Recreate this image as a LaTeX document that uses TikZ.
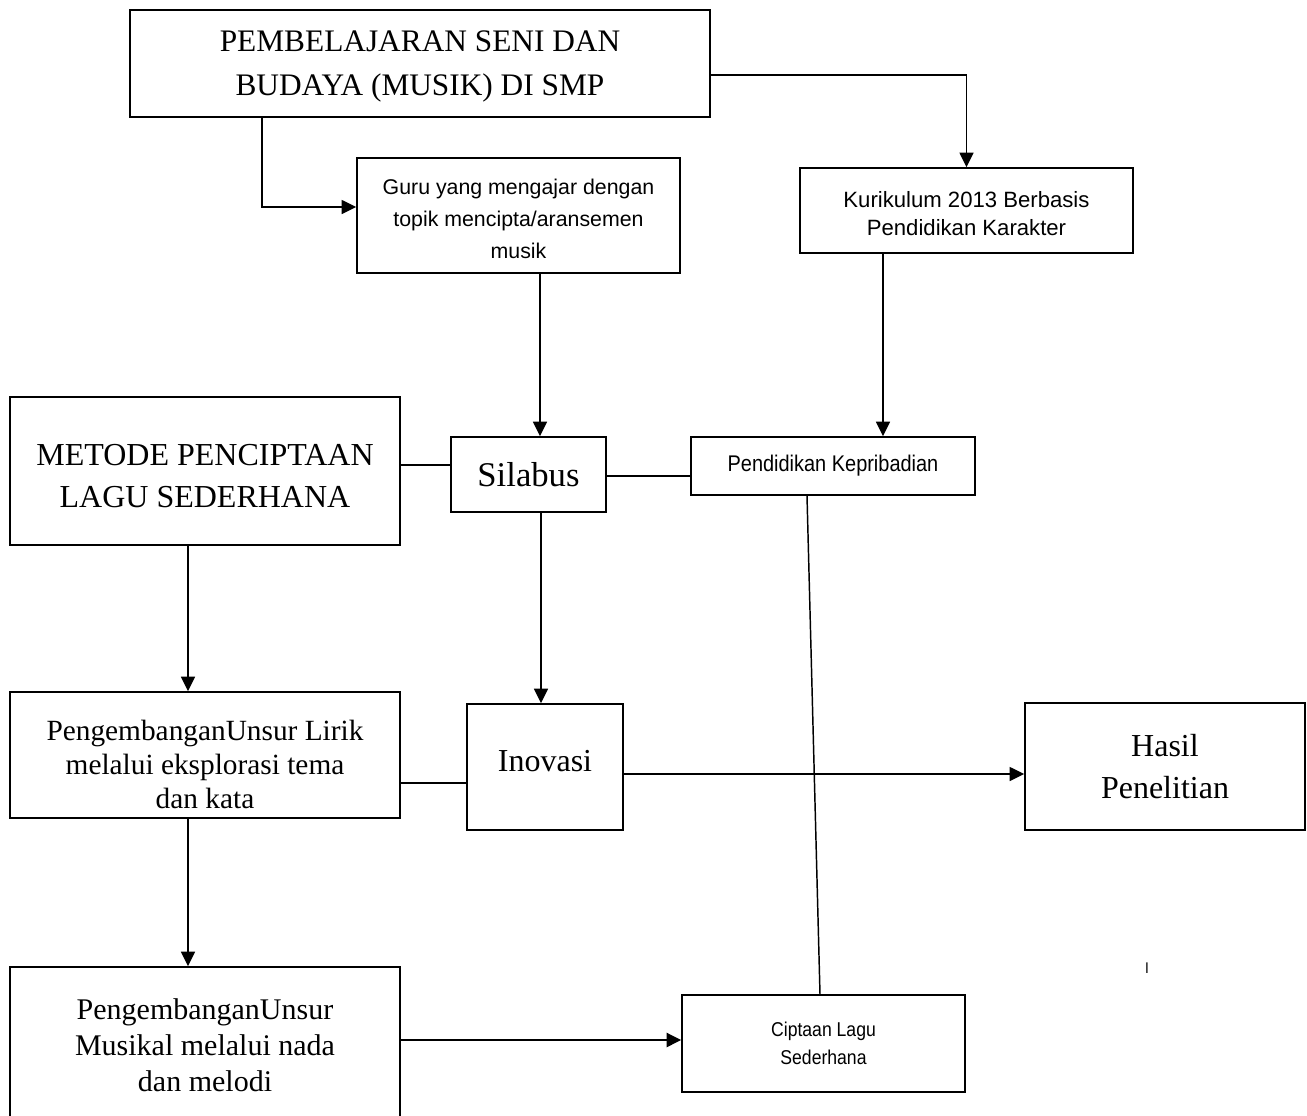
\documentclass[tikz,border=0pt]{standalone}
\usepackage{fontspec}
\setmainfont{Liberation Serif}
\newfontfamily\arial{Liberation Sans}
\newfontfamily\arialn[FakeStretch=0.88]{Liberation Sans}
\usetikzlibrary{arrows.meta,calc}
\tikzset{
  box/.style={draw, line width=1.2pt, inner sep=0pt, align=center},
  txt/.style={inner sep=0pt, align=center},
  arr/.style={line width=1.3pt, -{Triangle[length=11pt,width=10.5pt]}},
  thickarr/.style={line width=2pt, -{Triangle[length=11pt,width=10.5pt]}},
  link/.style={line width=1.1pt},
}
\newcommand{\fs}[2]{\fontsize{#1}{#2}\selectfont}
\begin{document}
\begin{tikzpicture}[x=0.75pt,y=-0.75pt]
\useasboundingbox (0,0) rectangle (1307,1115);
\fill[white] (0,0) rectangle (1307,1115);
\clip (0,0) rectangle (1307,1115);

% boxes
\node[box, minimum width=435pt, minimum height=80.25pt] (top) at (420,63.5) {};
\node[txt, font=\fs{23.5pt}{33pt}] (topt) at (420,66)
  {PEMBELAJARAN SENI DAN\\BUDAYA (MUSIK) DI SMP};
\node[box, minimum width=242.25pt, minimum height=86.25pt] (guru) at (518.5,215.5) {};
\node[txt, font=\arial\fs{16pt}{24pt}] (gurut) at (518.5,219)
  {Guru yang mengajar dengan\\topik mencipta/aransemen\\musik};
\node[box, minimum width=249.75pt, minimum height=63.75pt] (kur) at (966.5,210.5) {};
\node[txt, font=\arial\fs{16.6pt}{21pt}] (kurt) at (966.5,214)
  {Kurikulum 2013 Berbasis\\Pendidikan Karakter};
\node[box, minimum width=292.5pt, minimum height=111pt] (metode) at (205,471) {};
\node[txt, font=\fs{24pt}{31pt}] (metodet) at (205,476)
  {METODE PENCIPTAAN\\LAGU SEDERHANA};
\node[box, minimum width=116.25pt, minimum height=56.25pt, font=\fs{26pt}{30pt}] (silabus) at (528.5,474.5)
  {Silabus};
\node[box, minimum width=213pt, minimum height=43.5pt, font=\arialn\fs{17pt}{20pt}] (pend) at (833,466)
  {Pendidikan Kepribadian};
\node[box, minimum width=292.5pt, minimum height=94.5pt] (lirik) at (205,755) {};
\node[txt, font=\fs{22pt}{25.5pt}] (lirikt) at (205,764)
  {PengembanganUnsur Lirik\\melalui eksplorasi tema\\dan kata};
\node[box, minimum width=117pt, minimum height=94.5pt] (inovasi) at (545,767) {};
\node[txt, font=\fs{24pt}{30pt}] (inovasit) at (545,761) {Inovasi};
\node[box, minimum width=210pt, minimum height=95.25pt, font=\fs{24pt}{32pt}] (hasil) at (1165,766.5)
  {Hasil\\Penelitian};
\node[box, minimum width=292.5pt, minimum height=112.5pt] (musikal) at (205,1042) {};
\node[txt, font=\fs{22.5pt}{27pt}] (musikalt) at (205,1045)
  {PengembanganUnsur\\Musikal melalui nada\\dan melodi};
\node[box, minimum width=212.25pt, minimum height=72.75pt, font=\arialn\fs{15pt}{21pt}] (cipta) at (823.5,1043.5)
  {Ciptaan Lagu\\Sederhana};
\node[font=\arial\fs{11pt}{13pt}] (mark) at (1147,968) {l};

% connectors
\draw[arr] ($(top.south)+(-158,0)$) |- ($(guru.west)+(0,-8.5)$);
\draw[arr] ($(top.east)+(0,11.5)$) -| (kur.north);
\draw[arr] ($(guru.south)+(21.5,0)$) -- ($(silabus.north)+(11.5,0)$);
\draw[arr] ($(kur.south)+(-83.5,0)$) -- ($(pend.north)+(50,0)$);
\draw[link] ($(metode.east)+(0,-6)$) -- ($(silabus.west)+(0,-9.5)$);
\draw[link] ($(silabus.east)+(0,1.5)$) -- ($(pend.west)+(0,10)$);
\draw[arr] ($(silabus.south)+(12.5,0)$) -- ($(inovasi.north)+(-4,0)$);
\draw[arr] ($(metode.south)+(-17,0)$) -- ($(lirik.north)+(-17,0)$);
\draw[link] ($(lirik.east)+(0,28)$) -- ($(inovasi.west)+(0,16)$);
\draw[arr] ($(inovasi.east)+(0,7)$) -- ($(hasil.west)+(0,7.5)$);
\draw[arr] ($(lirik.south)+(-17,0)$) -- ($(musikal.north)+(-17,0)$);
\draw[thickarr] ($(musikal.east)+(0,-2)$) -- ($(cipta.west)+(0,-3.5)$);
\draw[link] ($(pend.south)+(-26,0)$) -- ($(cipta.north)+(-3.5,0)$);
\end{tikzpicture}
\end{document}
